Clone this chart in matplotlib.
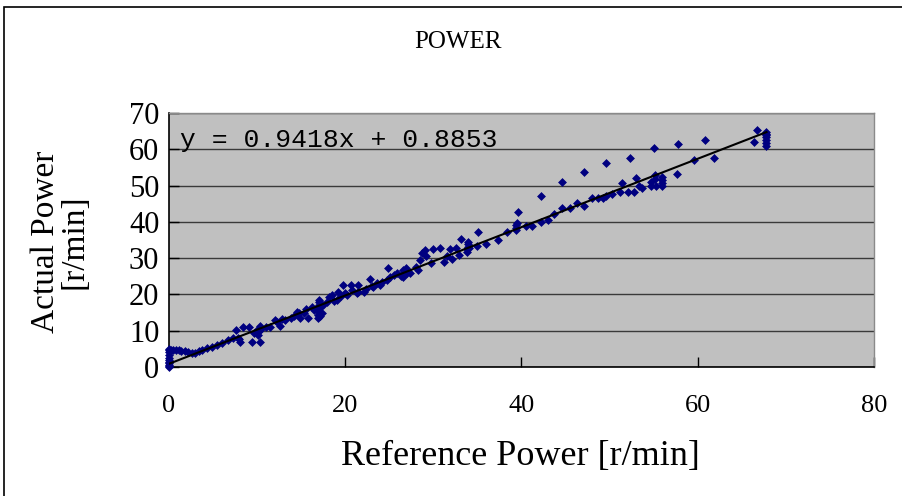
import matplotlib.pyplot as plt
from matplotlib.patches import Rectangle
import numpy as np

ref_power = [
    0, 0, 0, 0, 0, 0, 0, 0, 0, 0, 0,
    0.2, 0.5, 0.8, 1.1, 1.4, 1.8, 2.2, 2.6, 3.0, 3.4, 3.8, 4.3, 4.9, 5.4, 6.0, 6.7, 7.3,
    7.6, 7.8, 8.0, 8.1, 8.4, 9.1, 9.4, 9.6, 10.0, 10.1, 10.2, 10.3, 10.3, 10.4, 11.0, 11.5,
    12.0, 12.2, 12.6, 12.8, 13.2, 13.8, 14.2, 14.5, 14.7, 14.9, 15.3, 15.6, 15.8, 16.2, 16.4,
    16.9, 16.9, 16.9, 17.0, 17.0, 17.0, 17.0, 17.1, 17.2, 17.4, 17.5, 17.9, 18.1, 18.5, 18.7,
    19.1, 19.2, 19.5, 19.8, 20.0, 20.2, 20.6, 20.8, 21.3, 21.5, 21.5, 22.1, 22.3, 22.8, 23.0,
    23.2, 23.6, 24.0, 24.2, 24.7, 24.9, 25.1, 25.5, 25.9, 26.3, 26.6, 26.6, 26.9, 27.0, 27.4,
    28.0, 28.3, 28.5, 28.7, 29.1, 29.2, 29.7, 30.0, 30.7, 31.2, 31.5, 31.9, 32.1, 32.6, 32.9,
    33.1, 33.8, 33.8, 33.9, 33.9, 33.9, 34.0,
    34.9, 35.1, 36.0, 37.3, 38.4, 39.4, 39.4, 39.4, 39.5, 39.6, 40.5, 41.2, 42.2, 42.2, 43.0,
    43.7, 44.6, 44.6, 45.5, 46.3, 47.1, 47.1, 48.0, 48.7, 49.2, 49.6, 49.6, 50.3, 51.2, 51.4,
    52.1, 52.3, 52.8, 53.0, 53.3, 53.7, 54.7, 54.7, 55.0, 55.2, 55.3, 55.2, 56.0, 56.0, 56.0,
    56.0, 57.6, 57.8, 59.6, 60.8, 61.9, 66.4, 66.7,
    67.8, 67.8, 67.8, 67.8, 67.8, 67.8, 67.8,
]
actual_power = [
    0, 0.3, 0.6, 1.0, 1.5, 2.0, 2.6, 3.2, 4.0, 4.6, 5.0,
    4.8, 4.7, 4.6, 4.6, 4.5, 4.3, 4.0, 3.8, 3.9, 4.3, 4.7, 5.1, 5.6, 6.1, 6.5, 7.4, 7.9,
    10.2, 8.0, 7.6, 7.0, 10.9, 10.9, 7.0, 9.5, 10.2, 8.8, 9.8, 7.0, 11.3, 10.6, 10.9, 11.0,
    12.9, 12.3, 11.3, 13.2, 12.9, 13.5, 14.0, 15.2, 15.0, 13.4, 14.8, 15.9, 13.4, 16.6, 15.8,
    13.5, 14.4, 15.3, 16.2, 17.0, 17.8, 18.5, 14.0, 16.8, 14.8, 17.0, 18.0, 19.4, 19.8, 18.2,
    18.5, 20.8, 19.6, 22.6, 20.4, 19.8, 22.6, 21.2, 20.5, 22.6, 20.8, 20.8, 21.6, 24.2, 22.4,
    22.1, 23.1, 22.6, 23.4, 24.0, 27.4, 24.9, 25.3, 25.8, 25.0, 24.9, 26.7, 27.2, 25.8, 25.9,
    27.6, 26.7, 29.5, 31.3, 32.2, 30.5, 28.6, 32.4, 32.9, 29.0, 30.5, 32.4, 29.9, 32.9, 30.9,
    35.2, 31.8, 32.5, 33.2, 33.8, 34.5, 32.8,
    33.3, 37.3, 33.9, 35.1, 37.3, 37.7, 38.4, 39.0, 39.7, 42.8, 38.8, 38.8, 47.2, 40.0, 40.5,
    42.3, 51.0, 43.9, 43.9, 45.1, 53.8, 44.5, 46.6, 46.6, 46.6, 56.1, 47.2, 47.8, 48.3, 50.6,
    48.3, 57.7, 48.3, 52.2, 50.0, 49.4, 51.0, 49.9, 60.4, 52.9, 49.9, 51.7, 52.4, 51.6, 50.8,
    50.0, 53.3, 61.5, 57.1, 62.6, 57.7, 62.1, 65.4,
    64.8, 64.3, 63.8, 63.3, 62.5, 61.8, 61.0,
]

# linear trendline shown on the chart
slope = 0.9418
intercept = 0.8853

plt.rcParams["font.family"] = "Liberation Serif"

fig = plt.figure(figsize=(9.03, 4.96), dpi=100)
ax = fig.add_axes([169 / 903, 1 - 367 / 496, 705 / 903, 254 / 496])
ax.set_facecolor("#c0c0c0")

x = np.array(ref_power)
y = np.array(actual_power)
ax.scatter(x, y, marker="D", s=16, color="#000080", edgecolors="#000080",
           linewidths=0.5, zorder=3, clip_on=False)

xs = np.array([x.min(), x.max()])
ax.plot(xs, slope * xs + intercept, color="black", lw=1.5, zorder=4)

ax.set_xlim(0, 80)
ax.set_ylim(0, 70)
ax.set_xticks(np.arange(0, 81, 20))
ax.set_yticks(np.arange(0, 71, 10))
ax.yaxis.grid(True, color="#3a3a3a", lw=1.0)
ax.set_axisbelow(True)
ax.tick_params(direction="in", length=7, width=1, colors="black")
ax.tick_params(axis="x", pad=20, labelsize=19)
ax.tick_params(axis="y", pad=7, labelsize=22)
for side in ["left", "bottom"]:
    ax.spines[side].set_color("black")
    ax.spines[side].set_linewidth(1.2)
for side in ["top", "right"]:
    ax.spines[side].set_color("#8a8a8a")
    ax.spines[side].set_linewidth(1.0)

ax.text(1.2, 62.5, f"y = {slope:.4f}x + {intercept:.4f}", fontsize=19,
        va="center", ha="left", family="Liberation Mono", zorder=5)

fig.text(458 / 903, 1 - 42 / 496, "POWER", fontsize=18, ha="center", va="center")
fig.text(520 / 903, 1 - 457 / 496, "Reference Power [r/min]", fontsize=26,
         ha="center", va="center")
fig.text(60 / 903, 1 - 242 / 496, "Actual Power\n[r/min]", fontsize=24,
         ha="center", va="center", rotation=90, linespacing=0.95)

# chart area border
fig.patches.append(Rectangle((4 / 903, -0.05), 1.1, 1 - 7 / 496 + 0.05,
                             transform=fig.transFigure, fill=False,
                             edgecolor="black", lw=1.2))

fig.savefig("out.png", dpi=100)
